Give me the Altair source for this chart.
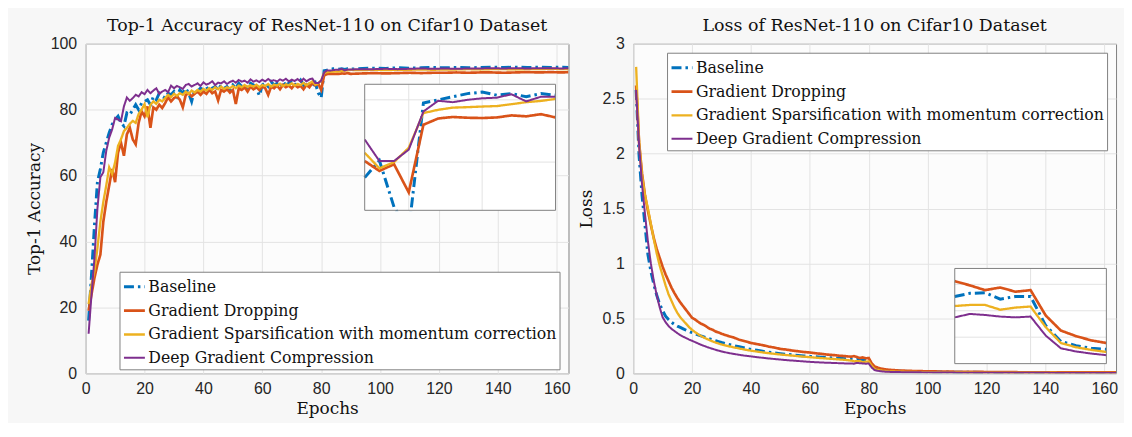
import altair as alt
import pandas as pd

SERIES = ["Baseline", "Gradient Dropping",
          "Gradient Sparsification with momentum correction",
          "Deep Gradient Compression"]
COLORS = ["#0072BD", "#D95319", "#EDB120", "#7E2F8E"]
DASHES = [[10, 4, 2.5, 4], [1, 0], [1, 0], [1, 0]]
WIDTHS = [3, 2, 2, 2.2]

# ---------------- accuracy (left) ----------------
ACC_EPOCHS = list(range(1, 91)) + [94, 98, 102, 106, 110, 114, 118, 122, 126, 130,
                                   134, 138, 142, 146, 150, 154, 158, 162, 164]
ACC_BASELINE = [16, 30, 45, 58, 62, 67, 70, 73, 75.5, 77,
                78, 76, 75, 79, 78.5, 80, 81.5, 80, 82, 82.5,
                83, 81.5, 84, 83, 85, 84, 83.5, 85, 84.5, 85.5,
                84, 86, 85, 86.5, 85, 82.5, 86, 85.5, 86.5, 86,
                87, 85.5, 86.5, 87, 86, 87.5, 86.5, 87, 86, 87.5,
                86.5, 88, 87, 87.5, 86.5, 88, 87.5, 86.5, 84.3, 87.5,
                88, 87, 88.5, 87.5, 88, 87, 88.5, 87.5, 88, 88.5,
                87.5, 88, 89, 87.5, 88.5, 87.5, 87.0, 88.1, 85.1, 83.6,
                91.8, 92.0, 92.2, 92.4, 92.5, 92.3, 92.4, 92.2, 92.4, 92.3,
                92.5, 92.6, 92.5, 92.7, 92.6, 92.7, 92.8, 92.7, 92.8, 92.7,
                92.8, 92.9, 92.8, 92.9, 92.8, 92.9, 92.8, 92.9, 92.8]
ACC_DROPPING = [19, 24, 29, 33, 36, 46, 52, 57, 62, 58,
                67, 70, 66, 72.5, 74.5, 71, 69.5, 76, 79.5, 78,
                81, 74.5, 80.7, 80, 81.5, 80.5, 82, 83.8, 82.5, 83.5,
                84, 83, 80.7, 84.5, 85, 84, 84.8, 85.5, 84.5, 85.5,
                84.8, 86, 85, 85.5, 82.8, 86, 85.5, 86.2, 85.2, 86,
                81.7, 86.5, 86, 86.8, 85.5, 87, 86.2, 86.8, 86, 87,
                86.5, 84.5, 87, 86.5, 87.3, 86.2, 87.5, 86.8, 87.3, 86.5,
                87.5, 86.8, 87.2, 86.2, 87.5, 86.8, 88.07, 87.43, 87.86, 86.05,
                90.4, 90.8, 90.9, 90.85, 90.83, 90.87, 91.0, 90.94, 91.08, 90.87,
                91.0, 91.1, 91.0, 91.1, 91.2, 91.1, 91.2, 91.2, 91.3, 91.2,
                91.3, 91.3, 91.2, 91.3, 91.4, 91.3, 91.4, 91.3, 91.4]
ACC_SPARSIFICATION = [21, 27, 31, 38, 46, 52, 57, 62.5, 60.5, 64,
                      69, 71, 73.5, 74.5, 75.7, 76.6, 76, 78.7, 80, 81.7,
                      77.7, 81.5, 82.5, 81.8, 83, 82.5, 83.5, 84.5, 83.8, 84.8,
                      84.2, 85, 84.5, 85.5, 84.8, 85.8, 85.2, 86, 85.5, 86.3,
                      85.8, 86.5, 86, 86.8, 86.2, 87, 86.3, 86.8, 86.5, 87.2,
                      86.5, 87.3, 86.8, 87.5, 86.9, 87.4, 87, 87.6, 86.8, 87.5,
                      87.2, 87.8, 87, 87.6, 87.3, 87.9, 87.1, 87.7, 87.4, 88,
                      87.3, 87.8, 87.5, 88.1, 87.4, 88, 88.6, 87.6, 88.0, 88.92,
                      91.15, 91.36, 91.5, 91.53, 91.57, 91.6, 91.72, 91.85, 91.93, 92.06,
                      92.0, 92.1, 92.0, 92.1, 92.1, 92.2, 92.1, 92.2, 92.2, 92.3,
                      92.2, 92.3, 92.3, 92.2, 92.3, 92.3, 92.4, 92.3, 92.3]
ACC_DGC = [12, 24, 35, 50, 59.5, 61, 67.5, 71.5, 74, 77.5,
           77, 76.5, 81, 83.7, 82.7, 83.5, 84.5, 84, 85.3, 84.7,
           86, 85, 85.8, 86.5, 84.8, 85.5, 86, 85.3, 87.3, 86.5,
           87.2, 86.8, 86.3, 87.5, 87.8, 87, 87.5, 88, 87.2, 88.3,
           87.6, 88, 88.6, 87.5, 88.2, 88, 88.6, 87.8, 88.4, 88.8,
           88.2, 89, 88.5, 88.8, 88.2, 89.2, 88.5, 88.9, 88.4, 89.1,
           88.6, 89.3, 88.7, 89, 88.5, 89.2, 88.8, 89.4, 88.6, 89.1,
           88.7, 89.3, 88.5, 89.4, 88.6, 89.2, 89.45, 88.07, 88.07, 88.8,
           91.25, 91.94, 91.85, 92.0, 92.1, 92.14, 92.36, 91.9, 92.2, 92.2,
           92.3, 92.3, 92.4, 92.3, 92.4, 92.5, 92.4, 92.5, 92.4, 92.5,
           92.5, 92.6, 92.5, 92.6, 92.5, 92.6, 92.6, 92.5, 92.6]

ACC_TICKS_X = [0, 20, 40, 60, 80, 100, 120, 140, 160]
ACC_TICKS_Y = [0, 20, 40, 60, 80, 100]
ACC_INSET_X = [77, 90]
ACC_INSET_Y = [84.9, 93]
ACC_INSET_XGRID = [80, 85]
ACC_INSET_YGRID = [88, 92]
ACC_MASK_X = [78.8, 80.6]
ACC_MASK_Y = [83.0, 84.85]

# ---------------- loss (right) ----------------
LOSS_EPOCHS = (list(range(1, 31)) + list(range(32, 75, 2)) + list(range(75, 91))
               + [95, 100, 110, 120, 130, 140, 150, 164])
LOSS_BASELINE = [2.58, 1.98, 1.62, 1.35, 1.08, 0.93, 0.81, 0.71, 0.63, 0.57,
                 0.52, 0.49, 0.465, 0.445, 0.43, 0.418, 0.405, 0.392, 0.381, 0.37,
                 0.36, 0.35, 0.34, 0.331, 0.322, 0.313, 0.304, 0.296, 0.288, 0.28,
                 0.266, 0.253, 0.241, 0.229, 0.218, 0.209, 0.2, 0.192, 0.185, 0.179, 0.173,
                 0.168, 0.163, 0.158, 0.154, 0.15, 0.146, 0.142, 0.139, 0.136, 0.133, 0.13,
                 0.127, 0.133, 0.134, 0.122, 0.127, 0.127, 0.072, 0.042, 0.034, 0.029,
                 0.027, 0.025, 0.023, 0.022, 0.021, 0.02,
                 0.016, 0.013, 0.01, 0.008, 0.007, 0.006, 0.005, 0.005]
LOSS_DROPPING = [2.62, 2.1, 1.82, 1.62, 1.48, 1.35, 1.23, 1.13, 1.05, 0.97,
                 0.9, 0.84, 0.78, 0.73, 0.685, 0.645, 0.61, 0.575, 0.54, 0.505,
                 0.49, 0.47, 0.452, 0.44, 0.423, 0.405, 0.396, 0.38, 0.372, 0.36,
                 0.342, 0.327, 0.306, 0.292, 0.276, 0.266, 0.256, 0.243, 0.234, 0.222, 0.216,
                 0.207, 0.201, 0.194, 0.189, 0.182, 0.177, 0.17, 0.166, 0.16, 0.156, 0.151,
                 0.156, 0.148, 0.139, 0.144, 0.136, 0.139, 0.091, 0.0625, 0.052, 0.044,
                 0.039, 0.035, 0.032, 0.03, 0.028, 0.026,
                 0.021, 0.018, 0.014, 0.012, 0.01, 0.009, 0.008, 0.008]
LOSS_SPARSIFICATION = [2.79, 2.12, 1.8, 1.62, 1.5, 1.36, 1.22, 1.09, 0.98, 0.89,
                       0.8, 0.72, 0.66, 0.6, 0.55, 0.51, 0.48, 0.45, 0.42, 0.395,
                       0.375, 0.357, 0.34, 0.326, 0.313, 0.301, 0.29, 0.28, 0.271, 0.263,
                       0.249, 0.237, 0.226, 0.215, 0.206, 0.198, 0.19, 0.183, 0.177, 0.171, 0.166,
                       0.161, 0.156, 0.151, 0.147, 0.142, 0.138, 0.134, 0.13, 0.126, 0.122, 0.116,
                       0.109, 0.111, 0.111, 0.102, 0.106, 0.108, 0.069, 0.039, 0.031, 0.026,
                       0.022, 0.02, 0.018, 0.017, 0.016, 0.015,
                       0.012, 0.01, 0.008, 0.006, 0.005, 0.005, 0.004, 0.004]
LOSS_DGC = [2.58, 2.08, 1.72, 1.45, 1.2, 1.0, 0.84, 0.71, 0.6, 0.51,
            0.465, 0.43, 0.405, 0.385, 0.365, 0.348, 0.333, 0.32, 0.307, 0.296,
            0.284, 0.272, 0.26, 0.25, 0.24, 0.231, 0.222, 0.214, 0.206, 0.199,
            0.187, 0.177, 0.168, 0.16, 0.154, 0.147, 0.141, 0.135, 0.13, 0.125, 0.12,
            0.116, 0.112, 0.108, 0.104, 0.101, 0.098, 0.096, 0.094, 0.092, 0.09, 0.089,
            0.0875, 0.094, 0.092, 0.089, 0.0875, 0.089, 0.053, 0.029, 0.023, 0.019,
            0.016, 0.014, 0.013, 0.012, 0.011, 0.011,
            0.009, 0.008, 0.006, 0.005, 0.004, 0.004, 0.003, 0.003]

LOSS_TICKS_X = [0, 20, 40, 60, 80, 100, 120, 140, 160]
LOSS_TICKS_Y = [0, 0.5, 1, 1.5, 2, 2.5, 3]
LOSS_INSET_X = [75, 85]
LOSS_INSET_Y = [0, 0.18]
LOSS_INSET_XGRID = [80]
LOSS_INSET_YGRID = [0.05, 0.1, 0.15]

# ---------------- style ----------------
BG = "#f7f7f7"
VIEW_FILL = "#fcfcfc"
FRAME = "#808080"
GRID = "#e3e3e3"
SERIF = "DejaVu Serif"
SANS = "Liberation Sans"
W, H = 485, 331


def long_df(epochs, values_list):
    rows = []
    for k, (name, vals) in enumerate(zip(SERIES, values_list)):
        for e, v in zip(epochs, vals):
            rows.append({"epoch": e, "value": v, "series": name, "k": k})
    return pd.DataFrame(rows)


def encodings(lx, ly):
    leg = alt.Legend(title=None, orient="none", legendX=lx, legendY=ly,
                     direction="vertical", fillColor="#ffffff", strokeColor=FRAME,
                     padding=3, rowPadding=4, labelFont=SERIF, labelFontSize=15.8,
                     labelColor="#111111", symbolType="stroke", symbolSize=441,
                     symbolStrokeWidth=2.5, labelOffset=2, labelLimit=700)
    color = alt.Color("series:N", scale=alt.Scale(domain=SERIES, range=COLORS), legend=leg)
    dash = alt.StrokeDash("series:N", scale=alt.Scale(domain=SERIES, range=DASHES), legend=leg)
    width = alt.StrokeWidth("series:N", scale=alt.Scale(domain=SERIES, range=WIDTHS), legend=None)
    return color, dash, width


def panel(df, title, xdom, ydom, xticks, yticks, ytitle, yfmt, leg_xy,
          ix_dom, iy_dom, ix_rng, iy_rng, xgrid, ygrid, mask=None):
    color, dash, width = encodings(*leg_xy)
    main = alt.Chart(df).mark_line(clip=True).encode(
        x=alt.X("epoch:Q", scale=alt.Scale(domain=xdom, nice=False, zero=False),
                axis=alt.Axis(values=xticks, title="Epochs", labelFlush=False,
                              labelPadding=7, titlePadding=4)),
        y=alt.Y("value:Q", scale=alt.Scale(domain=ydom, nice=False, zero=False),
                axis=alt.Axis(values=yticks, title=ytitle, format=yfmt, labelFlush=False,
                              labelPadding=9, titlePadding=7)),
        color=color, strokeDash=dash, strokeWidth=width, order="k:Q")

    ix = alt.Scale(domain=ix_dom, range=ix_rng, nice=False, zero=False)
    iy = alt.Scale(domain=iy_dom, range=iy_rng, nice=False, zero=False)
    box = pd.DataFrame({"x0": [ix_dom[0]], "x1": [ix_dom[1]],
                        "y0": [iy_dom[0]], "y1": [iy_dom[1]]})
    bg = alt.Chart(box).mark_rect(fill="#ffffff").encode(
        x=alt.X("x0:Q", scale=ix, axis=None), x2="x1:Q",
        y=alt.Y("y0:Q", scale=iy, axis=None), y2="y1:Q")
    gx_df = pd.DataFrame({"g": xgrid, "y0": iy_dom[0], "y1": iy_dom[1]})
    gx = alt.Chart(gx_df).mark_rule(color=GRID, strokeWidth=1).encode(
        x=alt.X("g:Q", scale=ix, axis=None),
        y=alt.Y("y0:Q", scale=iy, axis=None), y2="y1:Q")
    gy_df = pd.DataFrame({"g": ygrid, "x0": ix_dom[0], "x1": ix_dom[1]})
    gy = alt.Chart(gy_df).mark_rule(color=GRID, strokeWidth=1).encode(
        y=alt.Y("g:Q", scale=iy, axis=None),
        x=alt.X("x0:Q", scale=ix, axis=None), x2="x1:Q")
    lines = alt.Chart(df).transform_filter(
        (alt.datum.epoch >= ix_dom[0]) & (alt.datum.epoch <= ix_dom[1])
    ).mark_line().encode(
        x=alt.X("epoch:Q", scale=ix, axis=None),
        y=alt.Y("value:Q", scale=iy, axis=None),
        color=color, strokeDash=dash, strokeWidth=width, order="k:Q")
    parts = [bg, gx, gy, lines]
    if mask is not None:
        mdf = pd.DataFrame({"x0": [mask[0][0]], "x1": [mask[0][1]],
                            "y0": [mask[1][0]], "y1": [mask[1][1]]})
        parts.append(alt.Chart(mdf).mark_rect(fill=VIEW_FILL).encode(
            x=alt.X("x0:Q", scale=ix, axis=None), x2="x1:Q",
            y=alt.Y("y0:Q", scale=iy, axis=None), y2="y1:Q"))
    frame = alt.Chart(box).mark_rect(fill="#ffffff", fillOpacity=0, stroke=FRAME,
                                     strokeWidth=1).encode(
        x=alt.X("x0:Q", scale=ix, axis=None), x2="x1:Q",
        y=alt.Y("y0:Q", scale=iy, axis=None), y2="y1:Q")
    parts.append(frame)
    inset = alt.layer(*parts)
    return alt.layer(main, inset).resolve_scale(x="independent", y="independent").properties(
        width=W, height=H, title=alt.Title(title))


acc_df = long_df(ACC_EPOCHS, [ACC_BASELINE, ACC_DROPPING, ACC_SPARSIFICATION, ACC_DGC])
loss_df = long_df(LOSS_EPOCHS, [LOSS_BASELINE, LOSS_DROPPING, LOSS_SPARSIFICATION, LOSS_DGC])

left = panel(acc_df, "Top-1 Accuracy of ResNet-110 on Cifar10 Dataset",
             [0, 164], [0, 100], ACC_TICKS_X, ACC_TICKS_Y, "Top-1 Accuracy", "d",
             (34, 229), ACC_INSET_X, ACC_INSET_Y, [280.3, 472], [167.3, 40.7],
             ACC_INSET_XGRID, ACC_INSET_YGRID, mask=(ACC_MASK_X, ACC_MASK_Y))
right = panel(loss_df, "Loss of ResNet-110 on Cifar10 Dataset",
              [0, 164], [0, 3], LOSS_TICKS_X, LOSS_TICKS_Y, "Loss", "~g",
              (34, 9), LOSS_INSET_X, LOSS_INSET_Y, [323, 475.3], [321.3, 225.7],
              LOSS_INSET_XGRID, LOSS_INSET_YGRID)

chart = alt.hconcat(left, right, spacing=65, bounds="flush").resolve_scale(
    color="independent", strokeDash="independent", strokeWidth="independent"
).resolve_legend(color="independent", strokeDash="independent").properties(
    background=BG, padding={"left": 16, "top": 8, "right": 5, "bottom": 5}
).configure_view(stroke=FRAME, strokeWidth=1, fill=VIEW_FILL).configure_axis(
    labelFont=SANS, labelFontSize=16, labelColor="#262626",
    titleFont=SERIF, titleFontSize=17, titleFontWeight="normal", titleColor="#111111",
    grid=True, gridColor=GRID, domain=False, ticks=False, labelOverlap=False
).configure_legend(
    labelFont=SERIF, labelFontSize=15.8, labelColor="#111111", padding=3, rowPadding=4,
    labelOffset=2, symbolType="stroke", symbolSize=441, symbolStrokeWidth=2.5,
    labelLimit=700
).configure_title(font=SERIF, fontSize=17.5, fontWeight="normal", color="#111111",
                  offset=1, anchor="middle")

chart.save("out.html", embed_options={"renderer": "svg", "actions": False})
